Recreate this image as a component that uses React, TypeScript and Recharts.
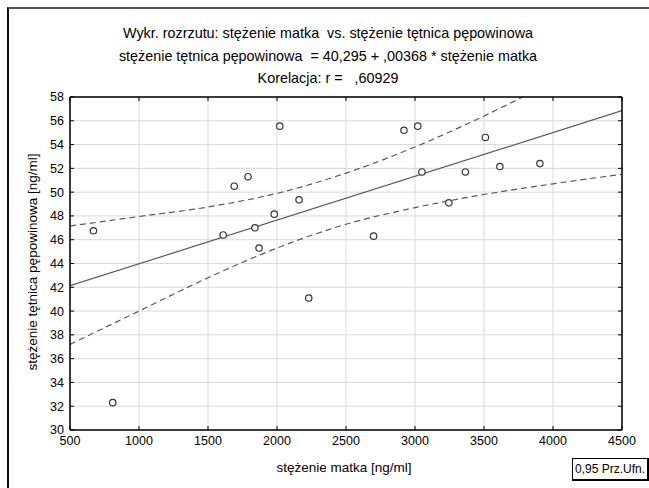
import { CartesianGrid, ComposedChart, Line, Scatter, XAxis, YAxis } from 'recharts'

// stężenie matka [ng/ml] vs stężenie tętnica pępowinowa [ng/ml]
const matka = [670, 810, 1610, 1690, 1790, 1840, 1870, 1980, 2020, 2160, 2230, 2700, 2920, 3020, 3050, 3245, 3365, 3510, 3615, 3905]
const tetnica = [46.75, 32.3, 46.4, 50.5, 51.3, 47.0, 45.3, 48.15, 55.55, 49.35, 41.1, 46.3, 55.2, 55.55, 51.7, 49.1, 51.7, 54.6, 52.15, 52.4]

// fitted line: 40,295 + ,00368 * x
const fitX = [500, 4500]
const fitY = [42.135, 56.855]

// 0,95 confidence band
const bandX = [500, 1000, 1500, 2000, 2500, 3000, 3500, 4000, 4500]
const upperY = [47.15, 47.95, 48.75, 49.9, 51.6, 53.8, 56.4, 59.3, 62.3]
const lowerY = [37.2, 40.0, 42.8, 45.3, 47.3, 48.7, 49.8, 50.7, 51.5]

const xTicks = [500, 1000, 1500, 2000, 2500, 3000, 3500, 4000, 4500]
const yTicks = [30, 32, 34, 36, 38, 40, 42, 44, 46, 48, 50, 52, 54, 56, 58]

const titleLines = [
  'Wykr. rozrzutu: stężenie matka  vs. stężenie tętnica pępowinowa',
  'stężenie tętnica pępowinowa  = 40,295 + ,00368 * stężenie matka',
  'Korelacja: r =   ,60929',
]

const font = '"Liberation Sans", Arial, sans-serif'
const ink = '#5a5a5a'

const points = matka.map((x, i) => ({ x, y: tetnica[i] }))
const fit = fitX.map((x, i) => ({ x, y: fitY[i] }))
const upper = bandX.map((x, i) => ({ x, y: upperY[i] }))
const lower = bandX.map((x, i) => ({ x, y: lowerY[i] }))

const tickStyle = { fill: '#000', fontSize: 12.5, fontFamily: font }
const noLabel = () => <g />

export default function App() {
  return (
    <div style={{ position: 'absolute', left: 0, top: 0, width: 649, height: 488, background: '#fff', overflow: 'hidden', fontFamily: font }}>
      <div
        style={{
          position: 'absolute',
          left: 7,
          top: 7,
          width: 700,
          height: 520,
          borderTop: '2px solid #555',
          borderLeft: '2px solid #111',
        }}
      />
      {titleLines.map((t, i) => (
        <div
          key={i}
          style={{
            position: 'absolute',
            left: 0,
            width: 656,
            top: 25 + i * 22.5,
            textAlign: 'center',
            fontSize: 14.5,
            transform: 'scaleX(0.99)',
            color: '#000',
            whiteSpace: 'pre',
          }}
        >
          {t}
        </div>
      ))}

      <div style={{ position: 'absolute', left: 0, top: 0 }}>
        <ComposedChart width={649} height={488} margin={{ top: 97, right: 27, bottom: 28, left: 30 }}>
          <CartesianGrid stroke="#d9d9d9" strokeWidth={1} horizontalValues={yTicks} verticalValues={xTicks} />
          <XAxis
            xAxisId={0}
            dataKey="x"
            type="number"
            domain={[500, 4500]}
            ticks={xTicks}
            allowDataOverflow
            height={30}
            tickLine={false}
            tickSize={0}
            tickMargin={6}
            axisLine={{ stroke: '#000', strokeWidth: 1.5 }}
            tick={tickStyle}
            interval={0}
          />
          <XAxis
            xAxisId="bt"
            dataKey="x"
            type="number"
            domain={[500, 4500]}
            ticks={xTicks}
            allowDataOverflow
            orientation="bottom"
            mirror
            tick={noLabel}
            tickSize={4}
            tickLine={{ stroke: '#000' }}
            axisLine={false}
            interval={0}
          />
          <XAxis
            xAxisId="top"
            dataKey="x"
            type="number"
            domain={[500, 4500]}
            ticks={xTicks}
            allowDataOverflow
            orientation="top"
            mirror
            tick={noLabel}
            tickSize={4}
            tickLine={{ stroke: '#000' }}
            axisLine={{ stroke: '#000', strokeWidth: 1.5 }}
            interval={0}
          />
          <YAxis
            yAxisId={0}
            type="number"
            domain={[30, 58]}
            ticks={yTicks}
            allowDataOverflow
            width={40}
            tickLine={false}
            tickSize={0}
            tickMargin={6}
            axisLine={{ stroke: '#000', strokeWidth: 1.5 }}
            tick={tickStyle}
            interval={0}
          />
          <YAxis
            yAxisId="lt"
            type="number"
            domain={[30, 58]}
            ticks={yTicks}
            allowDataOverflow
            orientation="left"
            mirror
            tick={noLabel}
            tickSize={4}
            tickLine={{ stroke: '#000' }}
            axisLine={false}
            interval={0}
          />
          <YAxis
            yAxisId="right"
            type="number"
            domain={[30, 58]}
            ticks={yTicks}
            allowDataOverflow
            orientation="right"
            mirror
            tick={noLabel}
            tickSize={4}
            tickLine={{ stroke: '#000' }}
            axisLine={{ stroke: '#000', strokeWidth: 1.5 }}
            interval={0}
          />
          <Line
            data={upper}
            dataKey="y"
            type="monotone"
            stroke={ink}
            strokeWidth={1.2}
            strokeDasharray="6 4"
            dot={false}
            isAnimationActive={false}
          />
          <Line
            data={lower}
            dataKey="y"
            type="monotone"
            stroke={ink}
            strokeWidth={1.2}
            strokeDasharray="6 4"
            dot={false}
            isAnimationActive={false}
          />
          <Line data={fit} dataKey="y" type="linear" stroke={ink} strokeWidth={1.2} dot={false} isAnimationActive={false} />
          <Scatter
            data={points}
            dataKey="y"
            isAnimationActive={false}
            shape={(p: any) => <circle cx={p.cx} cy={p.cy} r={3.2} fill="#fff" stroke="#333" strokeWidth={1.2} />}
          />
        </ComposedChart>
      </div>

      <div
        style={{
          position: 'absolute',
          left: 0,
          width: 688,
          top: 460,
          textAlign: 'center',
          fontSize: 13.5,
          color: '#000',
        }}
      >
        stężenie matka [ng/ml]
      </div>
      <div
        style={{
          position: 'absolute',
          left: 32,
          top: 262,
          transform: 'translate(-50%, -50%) rotate(-90deg)',
          fontSize: 13.5,
          color: '#000',
          whiteSpace: 'nowrap',
        }}
      >
        stężenie tętnica pępowinowa [ng/ml]
      </div>
      <div
        style={{
          position: 'absolute',
          left: 572,
          top: 458,
          padding: '3px 2px',
          border: '1px solid #000',
          borderRightWidth: 2,
          borderBottomWidth: 2,
          fontSize: 12,
          color: '#000',
          background: '#fff',
          whiteSpace: 'nowrap',
        }}
      >
        0,95 Prz.Ufn.
      </div>
    </div>
  )
}
